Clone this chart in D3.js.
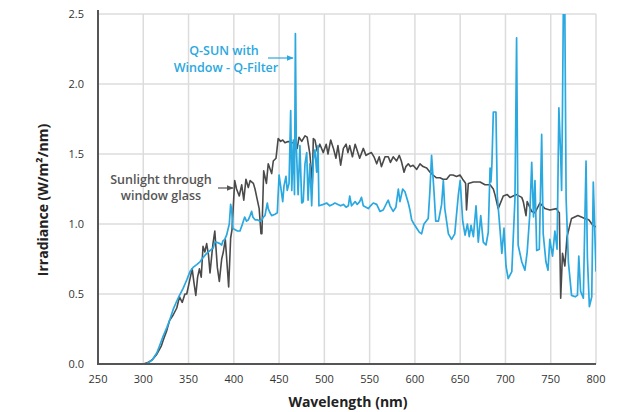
<!DOCTYPE html>
<html><head><meta charset="utf-8">
<script src="https://cdn.jsdelivr.net/npm/d3@7"></script>
<style>
html,body{margin:0;padding:0;background:#fff;}
svg{display:block;font-family:"Open Sans",Lato,sans-serif;}
</style></head>
<body><svg id="chart" width="623" height="412"></svg>
<script>
// ---- data ----
const xTicks = [250,300,350,400,450,500,550,600,650,700,750,800];
const yTicks = [0.0,0.5,1.0,1.5,2.0,2.5];

const sunWl = [250,300,305,310,315,320,322,326,329,333,337,340,343,346,348,351,354,356,358,360,362,364,366,368,370,372,373.7,376,377,379,381.8,384,386.6,388.4,390.6,392.8,394.3,396.5,398,401,403,406,408.7,411,413.4,416,418,421.6,423.4,426,428,430,431,433,436,438,441.8,443.6,446.6,449,451.7,454,456.5,460,464,468.7,470,472,475,478.6,481,484,486.7,487.8,489.6,492,495,498.8,502,504,507,510,512.8,515,518,521,524,526,528,531,534,536,539,543,546,548.5,552,554.8,557.8,560.6,563,567,570.6,573,576,579.8,582.7,585,588,590,592.7,595,598,602,605.6,609,613,616.7,620,623.8,627.7,631,635,638.7,642,646,649.8,652.7,655,656,657,659,664.6,672,677.4,683,686.6,688.4,692,697.6,702,705,712,718,719.7,722.7,724,729,732.6,738,743.6,749,756.5,758,759.5,761,763,765.6,768,773,780,787.6,792,796.7,800];
const sunVal = [0,0,0.01,0.03,0.07,0.13,0.17,0.24,0.31,0.35,0.40,0.48,0.44,0.50,0.50,0.59,0.68,0.58,0.49,0.62,0.68,0.62,0.84,0.80,0.86,0.78,0.65,0.80,0.86,0.95,0.69,0.59,0.75,0.80,0.89,0.69,0.55,0.90,0.96,1.31,1.25,1.20,1.28,1.17,1.32,1.26,1.31,1.29,1.25,1.17,1.11,0.93,0.93,1.38,1.29,1.43,1.36,1.45,1.47,1.61,1.59,1.60,1.58,1.59,1.58,1.58,1.54,1.62,1.59,1.63,1.62,1.50,1.29,1.61,1.60,1.52,1.57,1.51,1.57,1.50,1.60,1.54,1.47,1.56,1.42,1.54,1.57,1.51,1.56,1.48,1.57,1.53,1.47,1.54,1.49,1.50,1.51,1.48,1.43,1.48,1.41,1.48,1.48,1.44,1.48,1.45,1.49,1.45,1.37,1.41,1.43,1.41,1.42,1.39,1.43,1.41,1.40,1.37,1.35,1.33,1.33,1.32,1.32,1.35,1.35,1.34,1.35,1.32,1.30,1.29,1.10,1.29,1.30,1.30,1.28,1.28,1.25,1.21,1.11,1.20,1.21,1.19,1.21,1.19,1.16,1.06,1.16,1.09,1.08,1.15,1.11,1.10,1.11,1.09,1.08,0.47,0.79,0.70,0.91,1.04,1.06,1.04,1.03,0.99,0.98,0.99];

const qsunWl = [250,303,306,310,315,318,322,326,329.5,333,337,340,344,348,351.6,355,359,362.6,366,370,373.7,377.3,379,381,384.7,386.6,388,390,392,395,396.5,397.6,399,401,404,406.8,409,412,414,416,418,419.7,421,423.4,426,429,431,432.6,434.4,437,438,440,441.8,445.5,448,450,451.7,454,455.4,457.6,459,461,462.8,464,465.7,467,468,469,471,473,475,476.7,478.6,480.5,482,484,486,487.8,489.6,491.5,493,494,499,502.5,506,509,511.7,515,518,521,524,526.5,528,530,534,536.3,539,541,543,548.5,551,554,557.8,561.4,565,568.8,570.6,572.5,576,579,581.7,583.5,586.5,589,592.7,594.5,596.4,599,602,605,607.4,610,614.7,616.6,618.4,621,623,626,629.5,631.4,633,637,640.5,644,648,650,652.8,655.4,658,660,662,664.6,667.5,670,672.7,675.5,678.5,681,683,684,685,686.6,689.5,691,694,696,698.4,700.6,703,707,710.5,712.3,714,718,721.5,724,727,729,731,732.6,734.5,737.4,740,741.7,744.7,747,749,752,754.6,757,759,761,762,763,764,765.5,767,769.5,773,777,779.5,781,783,786,789,790.5,792.7,795.3,797,800];
const qsunVal = [0,0,0.01,0.03,0.08,0.13,0.20,0.26,0.32,0.39,0.45,0.49,0.54,0.60,0.66,0.69,0.71,0.73,0.76,0.79,0.81,0.83,0.87,0.87,0.86,0.85,0.88,0.89,0.92,1.00,1.14,1.10,0.97,0.96,0.95,0.95,0.99,1.05,1.02,1.03,1.06,1.09,1.05,1.03,1.03,1.02,1.03,1.05,1.06,1.15,1.11,1.08,1.06,1.07,1.08,1.35,1.27,1.16,1.27,1.34,1.24,1.29,1.81,1.24,1.60,1.21,2.36,1.56,1.21,1.56,1.15,1.16,1.43,1.51,1.17,1.43,1.13,1.46,1.53,1.37,1.56,1.13,1.14,1.15,1.13,1.14,1.15,1.14,1.13,1.14,1.12,1.13,1.20,1.13,1.16,1.14,1.16,1.19,1.13,1.11,1.13,1.15,1.14,1.09,1.10,1.15,1.17,1.13,1.09,1.12,1.25,1.16,1.25,1.23,1.15,1.10,1.03,1.00,0.97,0.94,0.93,1.00,1.04,1.24,1.49,1.24,1.02,1.02,1.14,1.31,1.11,0.93,0.89,0.93,1.21,1.31,1.02,0.92,1.00,0.91,0.99,0.91,1.13,0.87,1.06,0.87,0.85,0.94,1.40,1.30,1.42,1.80,1.80,1.20,0.96,0.79,0.97,0.70,0.61,0.66,1.18,2.33,0.85,0.73,0.67,0.80,1.08,1.44,1.05,1.31,0.81,0.82,1.64,0.93,0.73,0.67,0.89,0.77,0.95,0.82,1.83,1.49,1.24,1.83,2.60,2.60,1.18,0.73,0.49,0.48,0.49,0.77,0.52,0.47,1.45,0.76,0.41,0.48,1.30,0.66];

// ---- layout ----
const W = 623, H = 412;
const m = {left:98, right:27, top:14, bottom:48};
const svg = d3.select("#chart");
const x = d3.scaleLinear().domain([250,800]).range([m.left, W - m.right]);
const y = d3.scaleLinear().domain([0,2.5]).range([H - m.bottom, m.top]);

// grid
svg.append("g").selectAll("line").data(xTicks.slice(1)).join("line")
  .attr("x1", d=>x(d)).attr("x2", d=>x(d))
  .attr("y1", y(2.5)).attr("y2", y(0))
  .attr("stroke","#dcdcdc").attr("stroke-width",1.5);
svg.append("g").selectAll("line").data(yTicks.slice(1)).join("line")
  .attr("x1", x(250)).attr("x2", x(800))
  .attr("y1", d=>y(d)).attr("y2", d=>y(d))
  .attr("stroke","#dcdcdc").attr("stroke-width",1.5);

// clip
svg.append("clipPath").attr("id","plotclip").append("rect")
  .attr("x", x(250)).attr("y", y(2.5)).attr("width", x(800)-x(250)).attr("height", y(0)-y(2.5));

const line = d3.line().x(d=>x(d[0])).y(d=>y(d[1]));
const sun = sunWl.map((w,i)=>[w, sunVal[i]]);
const qsun = qsunWl.map((w,i)=>[w, qsunVal[i]]);

const g = svg.append("g").attr("clip-path","url(#plotclip)");
g.append("path").datum(sun).attr("d", line)
  .attr("fill","none").attr("stroke","#4a4a4a").attr("stroke-width",1.6).attr("stroke-linejoin","round");
g.append("path").datum(qsun).attr("d", line)
  .attr("fill","none").attr("stroke","#2aa8e0").attr("stroke-width",1.7).attr("stroke-linejoin","round");

// axes lines
svg.append("line").attr("x1", x(250)).attr("x2", x(250)).attr("y1", y(2.5)-4).attr("y2", y(0)+1)
  .attr("stroke","#555").attr("stroke-width",2);
svg.append("line").attr("x1", x(250)-1).attr("x2", x(800)).attr("y1", y(0)).attr("y2", y(0))
  .attr("stroke","#555").attr("stroke-width",2);

// tick labels
svg.append("g").selectAll("text").data(xTicks).join("text")
  .attr("x", d=>x(d)).attr("y", y(0)+19)
  .attr("text-anchor","middle").attr("font-size",11).attr("fill","#333")
  .text(d=>d);
svg.append("g").selectAll("text").data(yTicks).join("text")
  .attr("x", x(250)-14).attr("y", d=>y(d)+4)
  .attr("text-anchor","end").attr("font-size",11).attr("fill","#333")
  .text(d=>d.toFixed(1));

// axis titles
svg.append("text").attr("x", 348).attr("y", 407)
  .attr("text-anchor","middle").attr("font-size",14).attr("font-weight","bold").attr("fill","#222")
  .text("Wavelength (nm)");
svg.append("text").attr("transform","translate(48,200) rotate(-90)")
  .attr("text-anchor","middle").attr("font-size",14).attr("font-weight","bold").attr("fill","#222")
  .text("Irradiance (W/m²/nm)");

// annotations
const blue = "#2aa8e0", gray = "#555";
svg.append("defs").html(
  '<marker id="ab" viewBox="0 0 10 10" refX="9" refY="5" markerWidth="6" markerHeight="6" orient="auto"><path d="M0,1 L10,5 L0,9 z" fill="'+blue+'"/></marker>'+
  '<marker id="ag" viewBox="0 0 10 10" refX="9" refY="5" markerWidth="6" markerHeight="6" orient="auto"><path d="M0,1 L10,5 L0,9 z" fill="'+gray+'"/></marker>');
const tb = svg.append("text").attr("text-anchor","middle").attr("font-size",12.5).attr("font-weight",600).attr("fill",blue);
tb.append("tspan").attr("x",224).attr("y",55).text("Q-SUN with");
tb.append("tspan").attr("x",226).attr("y",72).text("Window - Q-Filter");
svg.append("line").attr("x1",268).attr("y1",58).attr("x2",293).attr("y2",58)
  .attr("stroke",blue).attr("stroke-width",1.2).attr("marker-end","url(#ab)");
const tg = svg.append("text").attr("text-anchor","middle").attr("font-size",12.5).attr("font-weight",600).attr("fill",gray);
tg.append("tspan").attr("x",161).attr("y",184).text("Sunlight through");
tg.append("tspan").attr("x",161).attr("y",200).text("window glass");
svg.append("line").attr("x1",218).attr("y1",188).attr("x2",233).attr("y2",188)
  .attr("stroke",gray).attr("stroke-width",1.2).attr("marker-end","url(#ag)");
</script></body></html>
